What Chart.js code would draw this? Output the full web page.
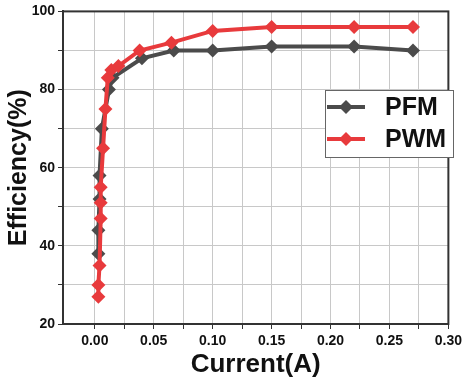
<!DOCTYPE html>
<html>
<head>
<meta charset="utf-8">
<script src="https://cdn.jsdelivr.net/npm/chart.js@4.4.0/dist/chart.umd.min.js"></script>
<style>
  html, body { margin: 0; padding: 0; background: #fff; }
  #wrap { width: 466px; height: 384px; }
</style>
</head>
<body>
<div id="wrap"><canvas id="c" width="466" height="384"></canvas></div>
<script>
// 데이터
const pfmCurrent = [0.003, 0.003, 0.004, 0.004, 0.006, 0.012, 0.015, 0.04, 0.067, 0.1, 0.15, 0.22, 0.27];
const pfmEff     = [38, 44, 52, 58, 70, 80, 83, 88, 90, 90, 91, 91, 90];
const pwmCurrent = [0.003, 0.003, 0.004, 0.005, 0.005, 0.005, 0.007, 0.009, 0.011, 0.014, 0.02, 0.038, 0.065, 0.1, 0.15, 0.22, 0.27];
const pwmEff     = [27, 30, 35, 47, 51, 55, 65, 75, 83, 85, 86, 90, 92, 95, 96, 96, 96];
const xTicks = [0, 0.025, 0.05, 0.075, 0.1, 0.125, 0.15, 0.175, 0.2, 0.225, 0.25, 0.275, 0.3];
const yTicks = [20, 30, 40, 50, 60, 70, 80, 90, 100];

const FONT = "'Liberation Sans', Arial, sans-serif";
const DARK = '#4b4b4b';
const RED = '#e83a3c';

const toPoints = (xs, ys) => xs.map((x, i) => ({ x: x, y: ys[i] }));

// 프레임 + 범례 그리기
const framePlugin = {
  id: 'frame',
  afterDraw(chart) {
    const { ctx, chartArea: a } = chart;
    ctx.save();
    ctx.strokeStyle = '#333';
    ctx.lineWidth = 2;
    ctx.strokeRect(a.left, a.top, a.right - a.left, a.bottom - a.top);

    // 범례
    const bx = 325, by = 90, bw = 128, bh = 67;
    ctx.fillStyle = '#fff';
    ctx.fillRect(bx, by, bw, bh);
    ctx.strokeStyle = '#666';
    ctx.lineWidth = 1;
    ctx.strokeRect(bx + 0.5, by + 0.5, bw, bh);
    chart.data.datasets.forEach((ds, i) => {
      const y = by + 17 + i * 32;
      ctx.strokeStyle = ds.borderColor;
      ctx.lineWidth = 4;
      ctx.beginPath();
      ctx.moveTo(bx + 2, y);
      ctx.lineTo(bx + 40, y);
      ctx.stroke();
      ctx.fillStyle = ds.borderColor;
      ctx.beginPath();
      ctx.moveTo(bx + 21, y - 7);
      ctx.lineTo(bx + 28, y);
      ctx.lineTo(bx + 21, y + 7);
      ctx.lineTo(bx + 14, y);
      ctx.closePath();
      ctx.fill();
      ctx.fillStyle = '#111';
      ctx.font = 'bold 25px ' + FONT;
      ctx.textBaseline = 'middle';
      ctx.fillText(ds.label, bx + 60, y + 1);
    });
    ctx.restore();
  }
};

new Chart(document.getElementById('c'), {
  type: 'line',
  data: {
    datasets: [
      {
        label: 'PFM',
        data: toPoints(pfmCurrent, pfmEff),
        borderColor: DARK,
        backgroundColor: DARK,
        borderWidth: 4,
        pointStyle: 'rectRot',
        pointRadius: 7,
        pointBorderWidth: 0,
        tension: 0,
        order: 1
      },
      {
        label: 'PWM',
        data: toPoints(pwmCurrent, pwmEff),
        borderColor: RED,
        backgroundColor: RED,
        borderWidth: 4,
        pointStyle: 'rectRot',
        pointRadius: 7,
        pointBorderWidth: 0,
        tension: 0,
        order: 0
      }
    ]
  },
  options: {
    responsive: false,
    animation: false,
    layout: { padding: { top: 11, right: 13, left: 0, bottom: 0 } },
    plugins: {
      legend: { display: false },
      tooltip: { enabled: false }
    },
    scales: {
      x: {
        type: 'linear',
        min: -0.027,
        max: 0.3,
        afterBuildTicks: (axis) => { axis.ticks = xTicks.map(v => ({ value: v })); },
        afterFit: (axis) => { axis.height = 60; },
        border: { display: true, color: '#333', width: 2 },
        grid: {
          color: '#c8c8c8',
          borderDash: [2, 2],
          tickBorderDash: [],
          tickColor: '#333',
          tickLength: 5,
          lineWidth: 1
        },
        ticks: {
          autoSkip: false,
          maxRotation: 0,
          color: '#111',
          font: { family: FONT, size: 14, weight: 'bold' },
          padding: 4,
          callback: (v) => (Math.round(v * 1000) % 50 === 0 ? v.toFixed(2) : '')
        },
        title: {
          display: true,
          text: 'Current(A)',
          color: '#111',
          font: { family: FONT, size: 26, weight: 'bold' },
          padding: { top: 0 }
        }
      },
      y: {
        type: 'linear',
        min: 20,
        max: 100,
        afterBuildTicks: (axis) => { axis.ticks = yTicks.map(v => ({ value: v })); },
        afterFit: (axis) => { axis.width = 63; },
        border: { display: true, color: '#333', width: 2 },
        grid: {
          color: '#c8c8c8',
          borderDash: [2, 2],
          tickBorderDash: [],
          tickColor: '#333',
          tickLength: 5,
          lineWidth: 1
        },
        ticks: {
          autoSkip: false,
          color: '#111',
          font: { family: FONT, size: 14, weight: 'bold' },
          padding: 3,
          callback: (v) => (v % 20 === 0 ? String(v) : '')
        },
        title: {
          display: true,
          text: 'Efficiency(%)',
          color: '#111',
          font: { family: FONT, size: 25, weight: 'bold' },
          padding: { bottom: 0 }
        }
      }
    }
  },
  plugins: [framePlugin]
});
</script>
</body>
</html>
